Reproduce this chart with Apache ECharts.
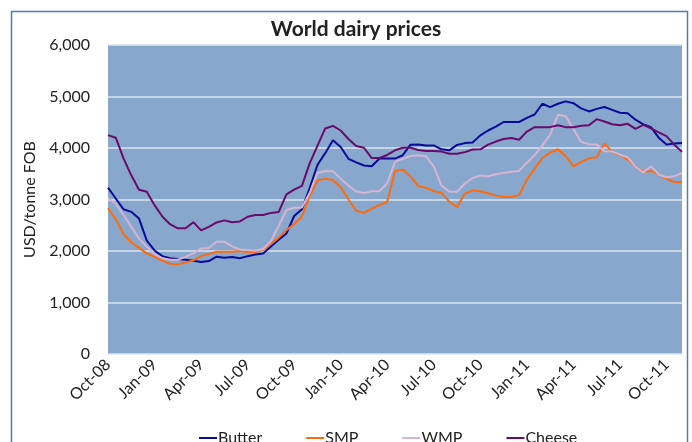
<!DOCTYPE html>
<html>
<head>
<meta charset="utf-8">
<title>World dairy prices</title>
<script src="https://cdn.jsdelivr.net/npm/echarts@6/dist/echarts.min.js"></script>
<style>
  html, body { margin: 0; padding: 0; background: #fff; }
  #chart { width: 692px; height: 442px; }
</style>
</head>
<body>
<div id="chart"></div>
<script>
// semi-monthly prices, Oct-08 .. Nov-11 (USD/tonne FOB)
const butter = [
  3230, 3020, 2810, 2760, 2630, 2200, 2010, 1900, 1860, 1845, 1830, 1810, 1785,
  1805, 1890, 1870, 1885, 1860, 1900, 1930, 1950, 2085, 2220, 2340, 2680,
  2810, 3220, 3670, 3900, 4150, 4020, 3790, 3720, 3660, 3645, 3795, 3795, 3795,
  3860, 4065, 4070, 4050, 4050, 3975, 3955, 4060, 4095, 4105, 4245, 4340,
  4415, 4505, 4505, 4505, 4585, 4650, 4860, 4795, 4860, 4905, 4870, 4770,
  4710, 4760, 4795, 4740, 4685, 4675, 4550, 4460, 4405, 4200, 4070, 4085, 4095
];
const smp = [
  2830, 2620, 2330, 2170, 2060, 1955, 1885, 1815, 1750, 1740, 1775, 1820, 1900,
  1940, 1985, 1985, 1985, 2000, 1980, 1980, 2020, 2135, 2260, 2405, 2525,
  2670, 3060, 3370, 3405, 3380, 3240, 3000, 2780, 2740, 2825, 2890, 2955, 3555,
  3580, 3450, 3260, 3230, 3160, 3130, 2960, 2850, 3115, 3175, 3160, 3120,
  3075, 3050, 3050, 3085, 3385, 3600, 3805, 3910, 3975, 3845, 3645, 3730,
  3800, 3820, 4090, 3920, 3860, 3775, 3650, 3540, 3555, 3490, 3400, 3340, 3340
];
const wmp = [
  3020, 2920, 2700, 2470, 2240, 2085, 1940, 1860, 1830, 1830, 1885, 1955, 2050,
  2060, 2180, 2180, 2090, 2030, 2020, 2005, 2040, 2190, 2485, 2795, 2840,
  2845, 3130, 3520, 3550, 3550, 3405, 3270, 3155, 3125, 3160, 3160, 3315, 3730,
  3790, 3845, 3860, 3840, 3640, 3270, 3155, 3150, 3310, 3415, 3465, 3450,
  3490, 3515, 3540, 3555, 3715, 3860, 4045, 4260, 4645, 4615, 4370, 4115,
  4075, 4070, 3935, 3930, 3870, 3820, 3640, 3525, 3645, 3485, 3430, 3450, 3515
];
const cheese = [
  4250, 4200, 3800, 3470, 3190, 3150, 2890, 2670, 2520, 2440, 2440, 2560, 2400,
  2470, 2555, 2595, 2560, 2575, 2665, 2700, 2700, 2740, 2755, 3100, 3190,
  3265, 3700, 4040, 4380, 4430, 4340, 4175, 4040, 4005, 3805, 3805, 3865, 3955,
  4005, 4005, 3960, 3940, 3940, 3930, 3890, 3890, 3920, 3970, 3975, 4065,
  4125, 4175, 4195, 4160, 4320, 4405, 4405, 4405, 4440, 4405, 4405, 4430,
  4440, 4560, 4515, 4460, 4440, 4470, 4370, 4450, 4380, 4305, 4230, 4065, 3925
];
// one label every 6 periods (quarterly)
const tickLabels = ['Oct-08', 'Jan-09', 'Apr-09', 'Jul-09', 'Oct-09', 'Jan-10', 'Apr-10',
  'Jul-10', 'Oct-10', 'Jan-11', 'Apr-11', 'Jul-11', 'Oct-11'];
const periods = butter.map((_, i) => String(i));

const colors = ['#0a0a9a', '#ff6a0a', '#d8b4d4', '#6a0a6a'];
const font = 'Lato, "Open Sans", sans-serif';
const chart = echarts.init(document.getElementById('chart'));

const line = (name, data, color) => ({
  name,
  type: 'line',
  data,
  symbol: 'none',
  smooth: false,
  lineStyle: { color, width: 2 },
  itemStyle: { color }
});

chart.setOption({
  animation: false,
  color: colors,
  textStyle: { fontFamily: font },
  title: {
    text: 'World dairy prices',
    left: 351,
    top: 14,
    textAlign: 'center',
    textStyle: { fontFamily: font, fontSize: 21, fontWeight: 'bold', color: '#222' }
  },
  graphic: [{
    type: 'rect',
    shape: { x: 11.5, y: 11.5, width: 676, height: 470 },
    style: { fill: 'none', stroke: '#4a7ebb', lineWidth: 1.5 },
    silent: true
  }],
  grid: {
    left: 108,
    right: 10,
    top: 45,
    bottom: 88,
    show: true,
    backgroundColor: '#87a8cc',
    borderWidth: 0
  },
  legend: {
    data: ['Butter', 'SMP', 'WMP', 'Cheese'],
    left: 194,
    top: 425,
    icon: 'rect',
    itemWidth: 18,
    itemHeight: 2,
    itemGap: 44,
    textStyle: { fontFamily: font, fontSize: 16, color: '#222', padding: [0, 0, 0, -4] }
  },
  xAxis: {
    type: 'category',
    data: periods,
    boundaryGap: false,
    axisLine: { show: false },
    axisTick: { show: false },
    axisLabel: {
      interval: i => i % 6 === 0,
      formatter: (v, i) => tickLabels[i / 6] || '',
      rotate: 45,
      margin: 8,
      fontFamily: font,
      fontSize: 16,
      color: '#222'
    },
    splitLine: { show: false }
  },
  yAxis: {
    type: 'value',
    min: 0,
    max: 6000,
    interval: 1000,
    name: 'USD/tonne FOB',
    nameLocation: 'middle',
    nameGap: 70,
    nameTextStyle: { fontFamily: font, fontSize: 16, color: '#222' },
    axisLine: { show: false },
    axisTick: { show: false },
    axisLabel: {
      margin: 18,
      fontFamily: font,
      fontSize: 16,
      color: '#222',
      formatter: v => v.toLocaleString('en-US')
    },
    splitLine: { lineStyle: { color: '#dbe4ee', width: 1.5 } }
  },
  series: [
    line('Butter', butter, colors[0]),
    line('SMP', smp, colors[1]),
    line('WMP', wmp, colors[2]),
    line('Cheese', cheese, colors[3])
  ]
});
</script>
</body>
</html>
